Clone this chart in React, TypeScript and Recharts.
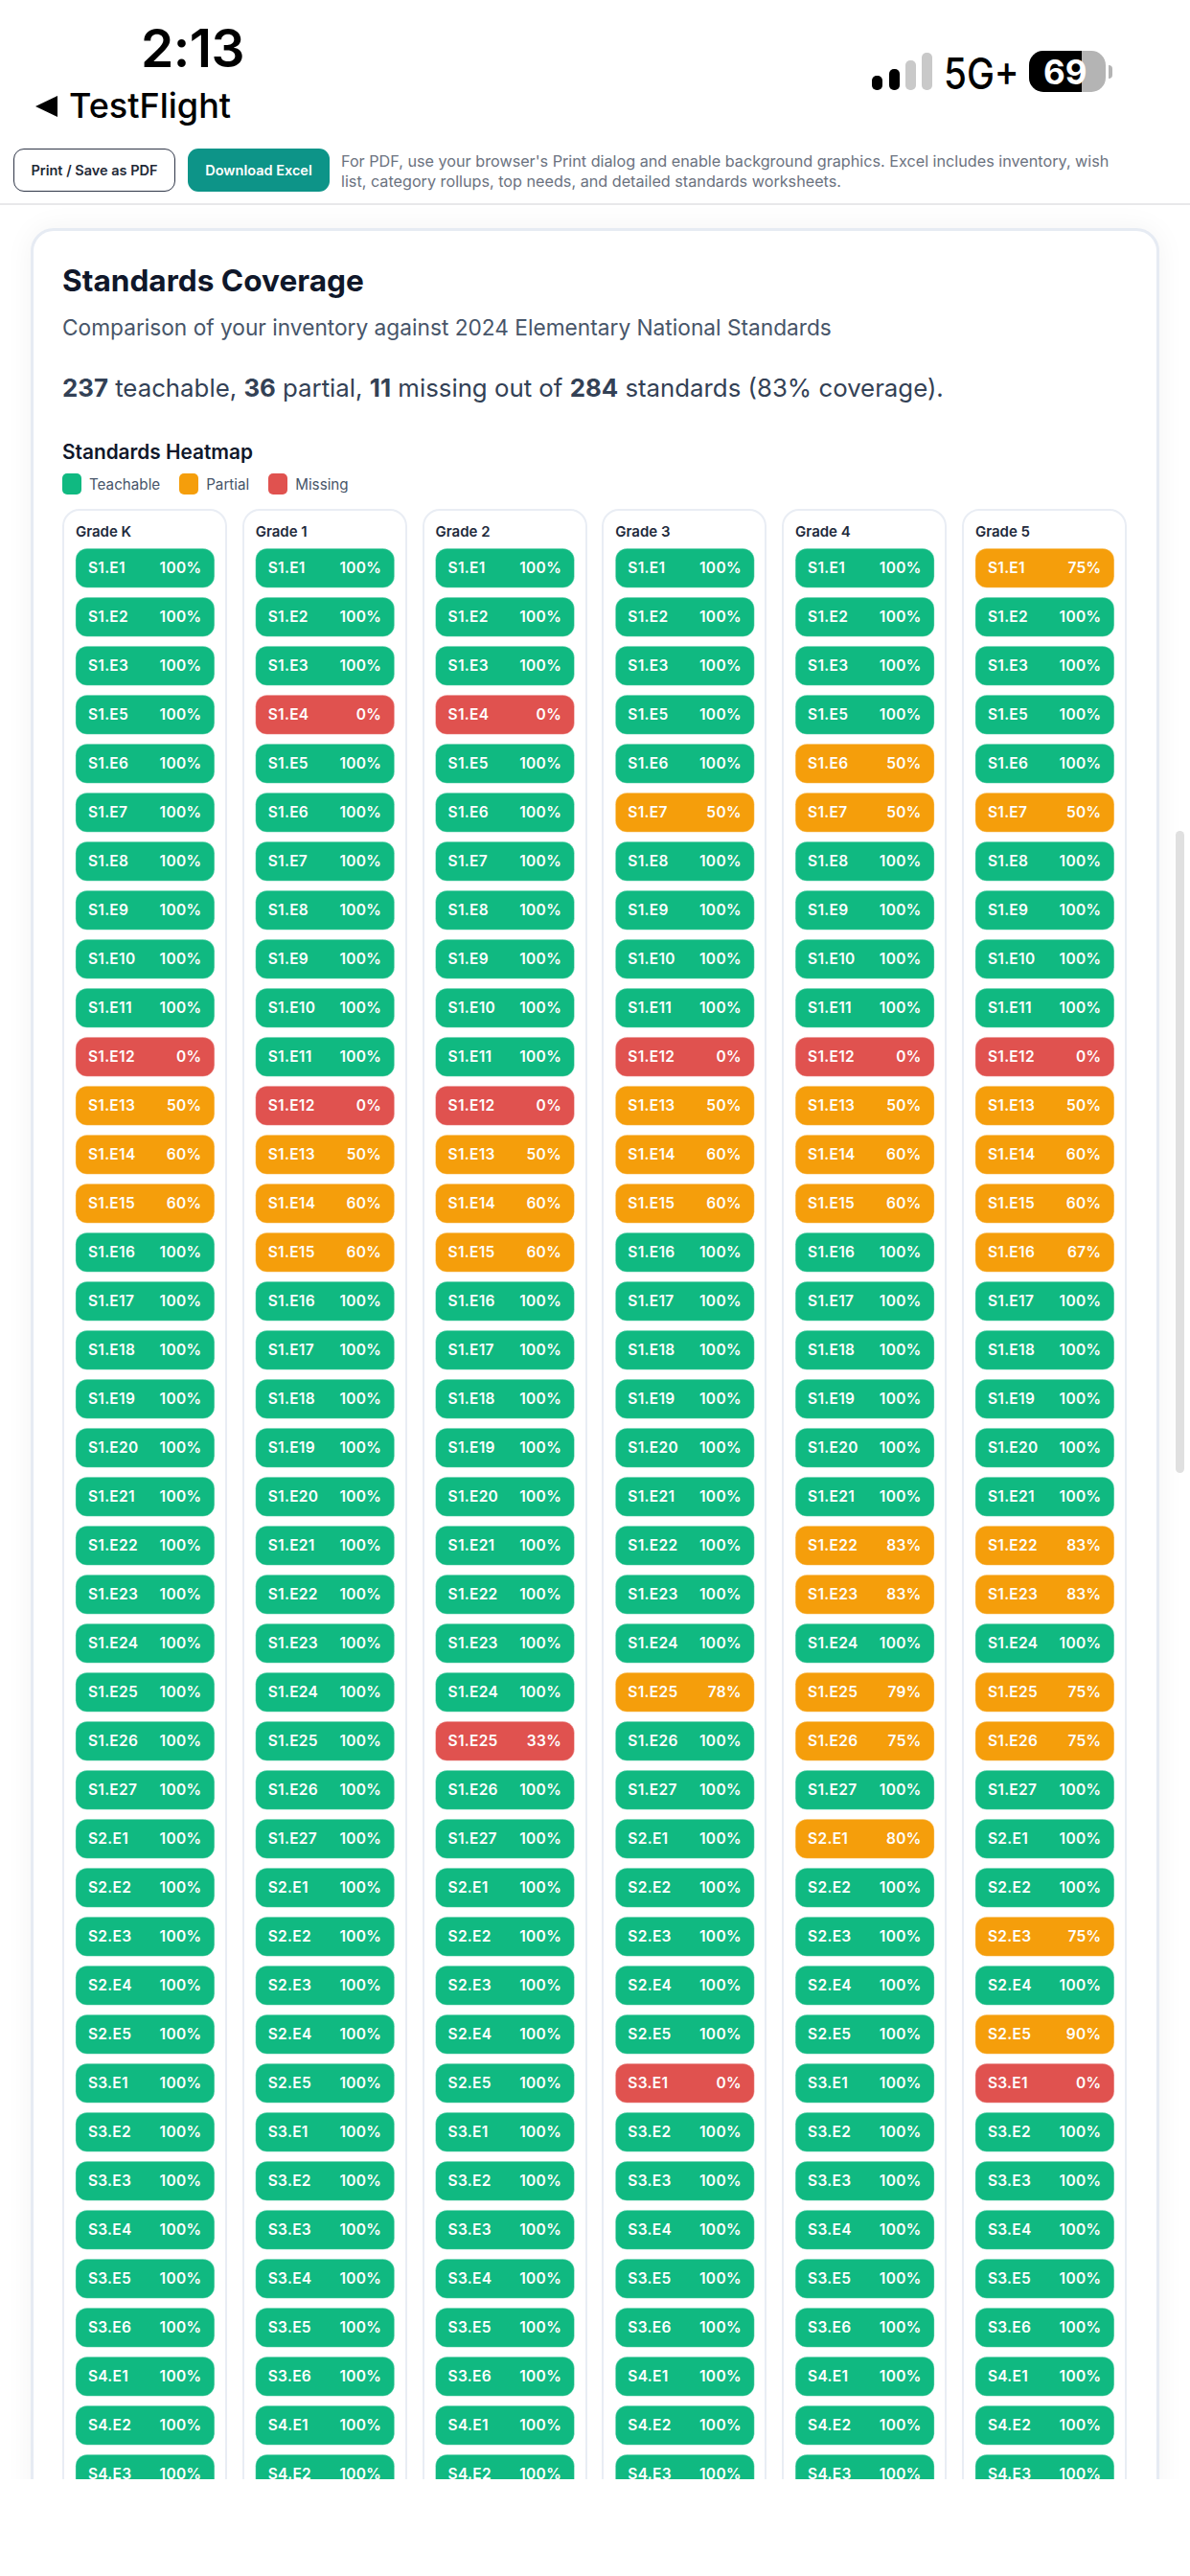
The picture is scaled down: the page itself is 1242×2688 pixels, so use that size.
import { ScatterChart, Scatter, XAxis, YAxis, Legend } from "recharts";

const grades = ["Grade K", "Grade 1", "Grade 2", "Grade 3", "Grade 4", "Grade 5"];

const gradeKCodes = [
  "S1.E1", "S1.E2", "S1.E3", "S1.E5", "S1.E6", "S1.E7", "S1.E8", "S1.E9", "S1.E10", "S1.E11",
  "S1.E12", "S1.E13", "S1.E14", "S1.E15", "S1.E16", "S1.E17", "S1.E18", "S1.E19", "S1.E20", "S1.E21",
  "S1.E22", "S1.E23", "S1.E24", "S1.E25", "S1.E26", "S1.E27", "S2.E1", "S2.E2", "S2.E3", "S2.E4",
  "S2.E5", "S3.E1", "S3.E2", "S3.E3", "S3.E4", "S3.E5", "S3.E6", "S4.E1", "S4.E2", "S4.E3",
];
const grade1Codes = [
  "S1.E1", "S1.E2", "S1.E3", "S1.E4", "S1.E5", "S1.E6", "S1.E7", "S1.E8", "S1.E9", "S1.E10",
  "S1.E11", "S1.E12", "S1.E13", "S1.E14", "S1.E15", "S1.E16", "S1.E17", "S1.E18", "S1.E19", "S1.E20",
  "S1.E21", "S1.E22", "S1.E23", "S1.E24", "S1.E25", "S1.E26", "S1.E27", "S2.E1", "S2.E2", "S2.E3",
  "S2.E4", "S2.E5", "S3.E1", "S3.E2", "S3.E3", "S3.E4", "S3.E5", "S3.E6", "S4.E1", "S4.E2",
];

const gradeKValues = [
  100, 100, 100, 100, 100, 100, 100, 100, 100, 100,
  0, 50, 60, 60, 100, 100, 100, 100, 100, 100,
  100, 100, 100, 100, 100, 100, 100, 100, 100, 100,
  100, 100, 100, 100, 100, 100, 100, 100, 100, 100,
];
const grade1Values = [
  100, 100, 100, 0, 100, 100, 100, 100, 100, 100,
  100, 0, 50, 60, 60, 100, 100, 100, 100, 100,
  100, 100, 100, 100, 100, 100, 100, 100, 100, 100,
  100, 100, 100, 100, 100, 100, 100, 100, 100, 100,
];
const grade2Values = [
  100, 100, 100, 0, 100, 100, 100, 100, 100, 100,
  100, 0, 50, 60, 60, 100, 100, 100, 100, 100,
  100, 100, 100, 100, 33, 100, 100, 100, 100, 100,
  100, 100, 100, 100, 100, 100, 100, 100, 100, 100,
];
const grade3Values = [
  100, 100, 100, 100, 100, 50, 100, 100, 100, 100,
  0, 50, 60, 60, 100, 100, 100, 100, 100, 100,
  100, 100, 100, 78, 100, 100, 100, 100, 100, 100,
  100, 0, 100, 100, 100, 100, 100, 100, 100, 100,
];
const grade4Values = [
  100, 100, 100, 100, 50, 50, 100, 100, 100, 100,
  0, 50, 60, 60, 100, 100, 100, 100, 100, 100,
  83, 83, 100, 79, 75, 100, 80, 100, 100, 100,
  100, 100, 100, 100, 100, 100, 100, 100, 100, 100,
];
const grade5Values = [
  75, 100, 100, 100, 100, 50, 100, 100, 100, 100,
  0, 50, 60, 60, 67, 100, 100, 100, 100, 100,
  83, 83, 100, 75, 75, 100, 100, 100, 75, 100,
  90, 0, 100, 100, 100, 100, 100, 100, 100, 100,
];

const columnCodes = [gradeKCodes, grade1Codes, grade1Codes, gradeKCodes, gradeKCodes, gradeKCodes];
const columnValues = [gradeKValues, grade1Values, grade2Values, grade3Values, grade4Values, grade5Values];

type Cell = { col: number; row: number; code: string; pct: number };

const cells: Cell[] = columnValues.flatMap((vals, col) =>
  vals.map((pct, row) => ({ col, row, code: columnCodes[col][row], pct }))
);
const teachable = cells.filter((c) => c.pct === 100);
const partial = cells.filter((c) => c.pct < 100 && c.pct >= 50);
const missing = cells.filter((c) => c.pct < 50);

const GREEN = "#10b981";
const AMBER = "#f59e0b";
const RED = "#e0524f";
const FONT = "Inter, sans-serif";

const Pill = (props: any) => {
  const { cx, cy, payload, fill } = props;
  return (
    <g>
      <rect x={cx - 72.5} y={cy - 20.5} width={145} height={41} rx={12} fill={fill} stroke="#fff" strokeOpacity={0.35} strokeWidth={1} />
      <text x={cx - 59.5} y={cy + 5.6} fill="#fff" fontFamily={FONT} fontSize={15.5} fontWeight={600} letterSpacing={0.3}>
        {payload.code}
      </text>
      <text x={cx + 59} y={cy + 5.6} fill="#fff" fontFamily={FONT} fontSize={15.5} fontWeight={600} letterSpacing={0.3} textAnchor="end">
        {payload.pct}%
      </text>
    </g>
  );
};

const GradeTick = (props: any) => {
  const { x, payload } = props;
  return (
    <text x={x - 72.5} y={559.5} fill="#1e293b" fontFamily={FONT} fontSize={15} fontWeight={600}>
      {grades[payload.value]}
    </text>
  );
};

const LegendRow = (props: any) => (
  <div style={{ display: "flex", fontFamily: FONT, fontSize: 15.2, color: "#475569", height: 22, alignItems: "center" }}>
    {props.payload.map((entry: any) => (
      <div key={entry.value} style={{ display: "flex", alignItems: "center", marginRight: 20 }}>
        <span style={{ width: 20, height: 22, borderRadius: 5, background: entry.color, marginRight: 8 }} />
        {entry.value}
      </div>
    ))}
  </div>
);

const abs = (left: number, top: number, width: number, height: number): React.CSSProperties => ({
  position: "absolute",
  left,
  top,
  width,
  height,
  boxSizing: "border-box",
});

const textAt = (left: number, centerY: number, size: number, weight: number, color: string): React.CSSProperties => ({
  position: "absolute",
  left,
  top: centerY - size,
  height: size * 2,
  lineHeight: `${size * 2}px`,
  fontFamily: FONT,
  fontSize: size,
  fontWeight: weight,
  color,
  whiteSpace: "nowrap",
});

const signalBars = [
  { left: 910, top: 79, color: "#000" },
  { left: 928, top: 72, color: "#000" },
  { left: 945, top: 63, color: "#c9c9c9" },
  { left: 962, top: 55, color: "#c9c9c9" },
];

export default function App() {
  return (
    <div style={{ ...abs(0, 0, 1242, 2587), overflow: "hidden", background: "#fff" }}>
      {/* status bar */}
      <div style={{ ...textAt(147, 50, 55, 600, "#000"), letterSpacing: -0.5 }}>2:13</div>
      <div style={{ ...abs(37, 100, 23, 22), background: "#000", clipPath: "polygon(100% 0, 100% 100%, 0 50%)" }} />
      <div style={textAt(72, 110, 36, 500, "#000")}>TestFlight</div>
      {signalBars.map((b) => (
        <div key={b.left} style={{ ...abs(b.left, b.top, 11, 94 - b.top), background: b.color, borderRadius: 5 }} />
      ))}
      <div style={{ ...textAt(985, 77, 45, 500, "#000"), transform: "scaleX(0.86)", transformOrigin: "left center" }}>5G+</div>
      <div style={{ ...abs(1074, 53, 80, 43), borderRadius: 15, overflow: "hidden", background: "#b4b4b4" }}>
        <div style={{ ...abs(0, 0, 55, 43), background: "#000" }} />
      </div>
      <div style={{ ...abs(1157, 68, 4, 14), background: "#b4b4b4", borderRadius: "0 6px 6px 0" }} />
      <div style={textAt(1089, 74.5, 35, 700, "#fff")}>69</div>

      {/* toolbar */}
      <div style={{ ...abs(14, 155, 169, 45), border: "1.5px solid #2f3648", borderRadius: 11, background: "#fff", fontFamily: FONT, fontSize: 14.5, fontWeight: 600, color: "#1f2937", display: "flex", alignItems: "center", justifyContent: "center" }}>
        Print / Save as PDF
      </div>
      <div style={{ ...abs(196, 155, 148, 45), borderRadius: 11, background: "#0d9488", fontFamily: FONT, fontSize: 14.5, fontWeight: 600, color: "#fff", display: "flex", alignItems: "center", justifyContent: "center" }}>
        Download Excel
      </div>
      <div style={textAt(356, 168, 16.2, 400, "#6b7280")}>
        For PDF, use your browser's Print dialog and enable background graphics. Excel includes inventory, wish
      </div>
      <div style={textAt(356, 189, 16.2, 400, "#6b7280")}>
        list, category rollups, top needs, and detailed standards worksheets.
      </div>
      <div style={{ ...abs(0, 212, 1242, 2), background: "#e8e8ea" }} />

      {/* card */}
      <div style={{ ...abs(32, 238, 1178, 2400), border: "3px solid #e6ebf3", borderRadius: 24, background: "#fff", boxShadow: "0 0 30px rgba(15,23,42,0.05)" }} />
      <div style={textAt(65, 293, 31.6, 700, "#0f172a")}>Standards Coverage</div>
      <div style={textAt(65, 342, 22.7, 400, "#475569")}>Comparison of your inventory against 2024 Elementary National Standards</div>
      <div style={textAt(65, 405, 25.8, 400, "#334155")}>
        <b>237</b> teachable, <b>36</b> partial, <b>11</b> missing out of <b>284</b> standards (83% coverage).
      </div>
      <div style={textAt(65, 472, 20.8, 600, "#0f172a")}>Standards Heatmap</div>

      {grades.map((g, i) => (
        <div key={g} style={{ ...abs(65 + i * 187.8, 531, 172, 2200), border: "2px solid #e9edf4", borderRadius: 18, background: "#fff" }} />
      ))}

      <div style={abs(0, 0, 1242, 2688)}>
        <ScatterChart width={1242} height={2688} margin={{ top: 537.3, right: 57.7, bottom: 80.7, left: 57.5 }}>
          <XAxis
            xAxisId={0}
            type="number"
            dataKey="col"
            orientation="top"
            height={30}
            domain={[-0.5, 5.5]}
            ticks={[0, 1, 2, 3, 4, 5]}
            axisLine={false}
            tickLine={false}
            tick={<GradeTick />}
          />
          <YAxis yAxisId={0} type="number" dataKey="row" hide reversed domain={[-0.5, 39.5]} />
          <Legend
            layout="horizontal"
            verticalAlign="middle"
            align="center"
            itemSorter={null}
            content={<LegendRow />}
            wrapperStyle={{ position: "absolute", left: 65, top: 494, width: 400 }}
          />
          <Scatter name="Teachable" data={teachable} fill={GREEN} shape={<Pill />} isAnimationActive={false} />
          <Scatter name="Partial" data={partial} fill={AMBER} shape={<Pill />} isAnimationActive={false} />
          <Scatter name="Missing" data={missing} fill={RED} shape={<Pill />} isAnimationActive={false} />
        </ScatterChart>
      </div>

      {/* scrollbar */}
      <div style={{ ...abs(1227, 867, 9, 670), background: "#e0e0e0", borderRadius: 5 }} />
    </div>
  );
}
